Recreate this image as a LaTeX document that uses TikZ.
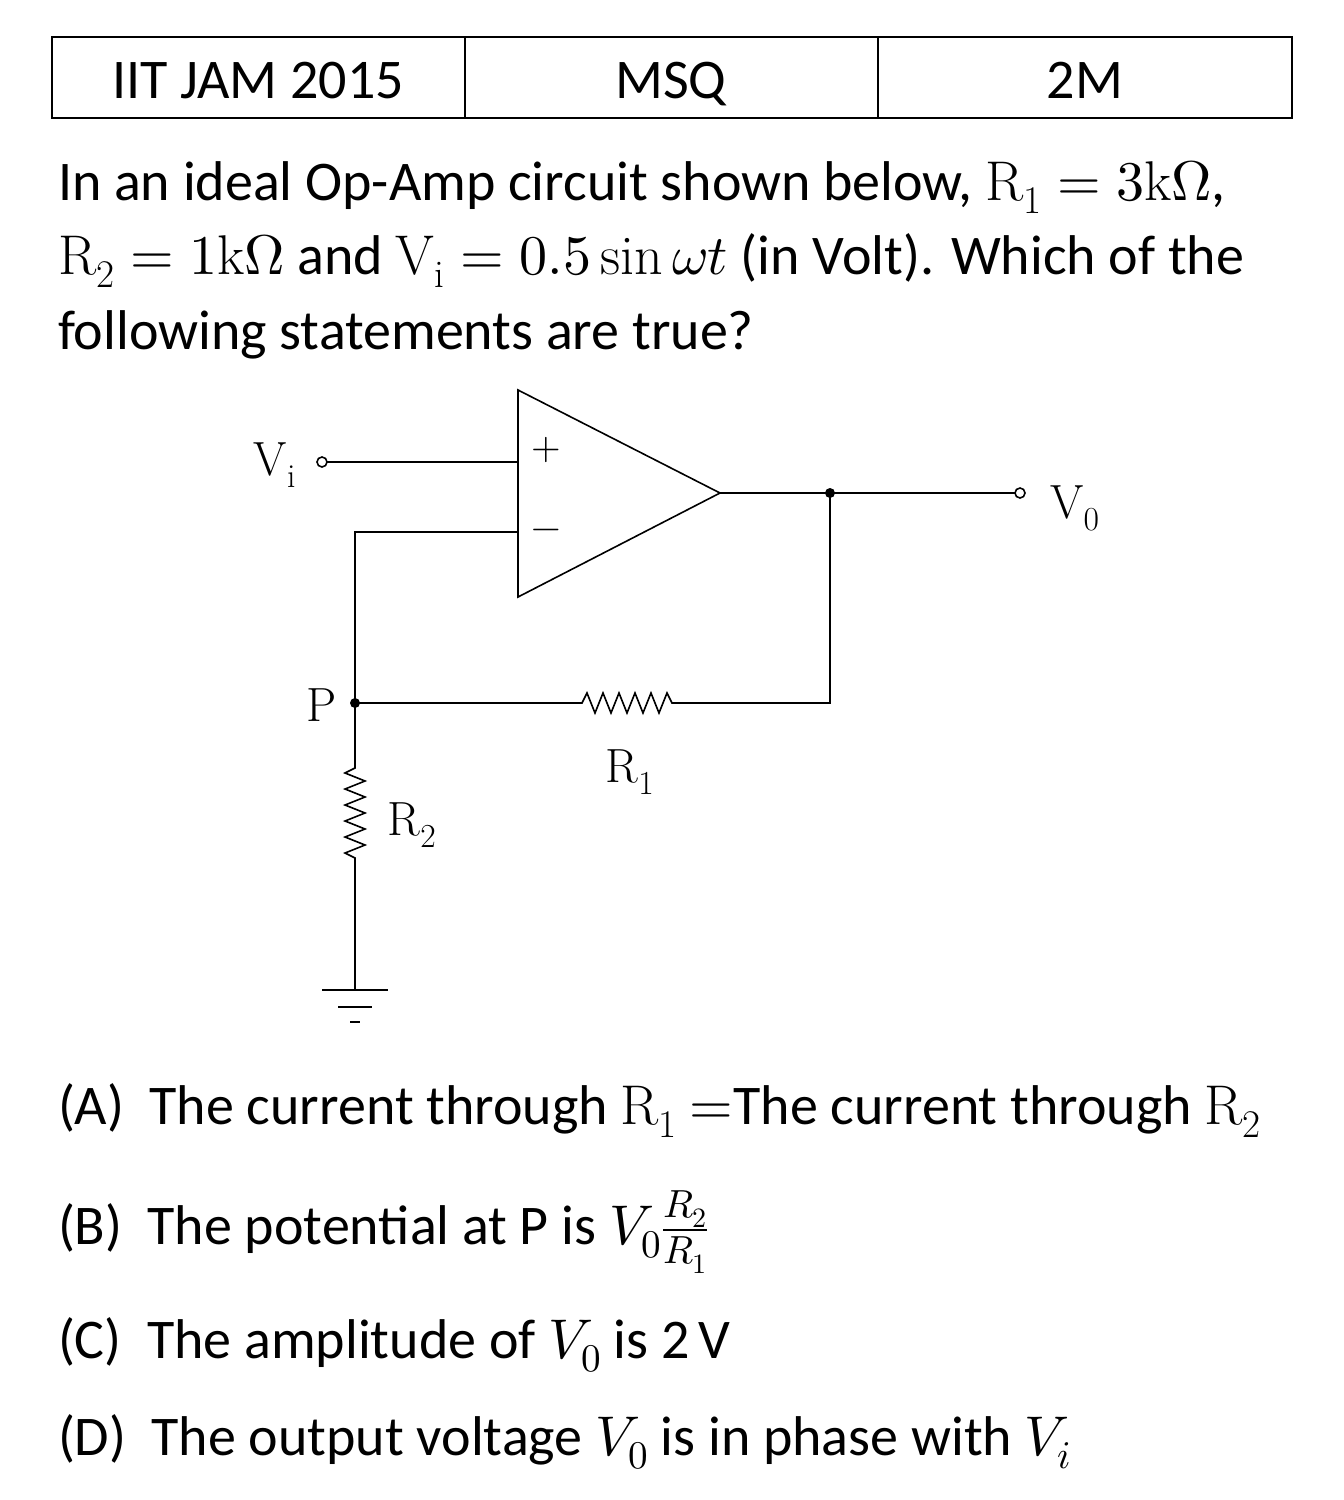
\documentclass[tikz,border=0pt]{standalone}
\usepackage{unicode-math}
\setmainfont{Carlito}
\setmathfont{Latin Modern Math}
\setmathrm{Latin Modern Roman}
\begin{document}
\begin{tikzpicture}[x=1pt,y=-1pt,line width=2pt,
  txt/.style={anchor=base west,inner sep=0,font=\fontsize{56}{60}\selectfont},
  lab/.style={inner sep=0,font=\fontsize{48}{52}\selectfont},
  cell/.style={font=\fontsize{56}{60}\selectfont}]
\useasboundingbox (0,0) rectangle (1344,1500);
\draw[line width=1.5pt] (52,37) rectangle (1292,118) (465,37)--(465,118) (878,37)--(878,118);
\node[cell,anchor=base] (c1) at (258,98) {IIT JAM 2015};
\node[cell,anchor=base] (c2) at (671,98) {MSQ};
\node[cell,anchor=base] (c3) at (1085,98) {2M};
\node[txt] (l1) at (57,200) {In an ideal Op-Amp circuit shown below, $\mathrm{R_1}=3\mathrm{k}\Omega$,};
\node[txt] (l2) at (57,274) {$\mathrm{R_2}=1\mathrm{k}\Omega$ and $\mathrm{V_i}=0.5\sin\omega t$ (in Volt). Which of the};
\node[txt] (l3) at (57,349) {following statements are true?};
% op amp
\coordinate (tl) at (518,390); \coordinate (bl) at (518,597); \coordinate (tip) at (720,493);
\draw[line width=1.6pt] (tl)--(tip)--(bl)--cycle;
\node[font=\fontsize{38}{40}\selectfont] (plus) at (546,450) {$+$};
\node[font=\fontsize{38}{40}\selectfont] (minus) at (546,534) {$-$};
\coordinate (pin) at (518,462); \coordinate (nin) at (518,532);
\draw[line width=1.6pt] (pin) -- (327,462);
\draw[line width=1.6pt] (322,462) circle (5);
\node[lab] (vi) at (275,465) {$\mathrm{V_i}$};
\coordinate (dout) at (830,493);
\draw[line width=1.6pt] (tip) -- (1015,493);
\draw[line width=1.6pt] (1020,493) circle (5);
\fill (dout) circle (5);
\node[lab] (vo) at (1075,508) {$\mathrm{V_0}$};
\coordinate (P) at (355,703);
\draw[line width=1.6pt] (nin) -- (355,532) -- (P);
\draw[line width=1.6pt] (dout) -- (830,703) -- (672,703) -- (667,693) -- (659,713) -- (651,693) -- (643,713) -- (635,693) -- (627,713) -- (619,693) -- (611,713) -- (603,693) -- (595,713) -- (587,693) -- (582,703) -- (P);
\fill (P) circle (5);
\node[lab] (pl) at (322,705) {$\mathrm{P}$};
\node[lab] (r1) at (630,772) {$\mathrm{R_1}$};
\draw[line width=1.6pt] (P) -- (355,768) -- (345,773) -- (365,781) -- (345,789) -- (365,797) -- (345,805) -- (365,813) -- (345,821) -- (365,829) -- (345,837) -- (365,845) -- (345,853) -- (355,858) -- (355,990);
\node[lab] (r2) at (412,825) {$\mathrm{R_2}$};
\draw[line width=1.6pt] (322,990)--(388,990) (338,1007)--(372,1007) (350,1022)--(360,1022);
\node[txt] (a) at (57,1124) {(A)\ \ The current through $\mathrm{R_1}$ $=$The current through $\mathrm{R_2}$};
\node[txt] (b) at (57,1244) {(B)\ \ The potential at P is $V_0\frac{R_2}{R_1}$};
\node[txt] (c) at (57,1358) {(C)\ \ The amplitude of $V_0$ is 2\,V};
\node[txt] (d) at (57,1455) {(D)\ \ The output voltage $V_0$ is in phase with $V_i$};
\end{tikzpicture}
\end{document}
